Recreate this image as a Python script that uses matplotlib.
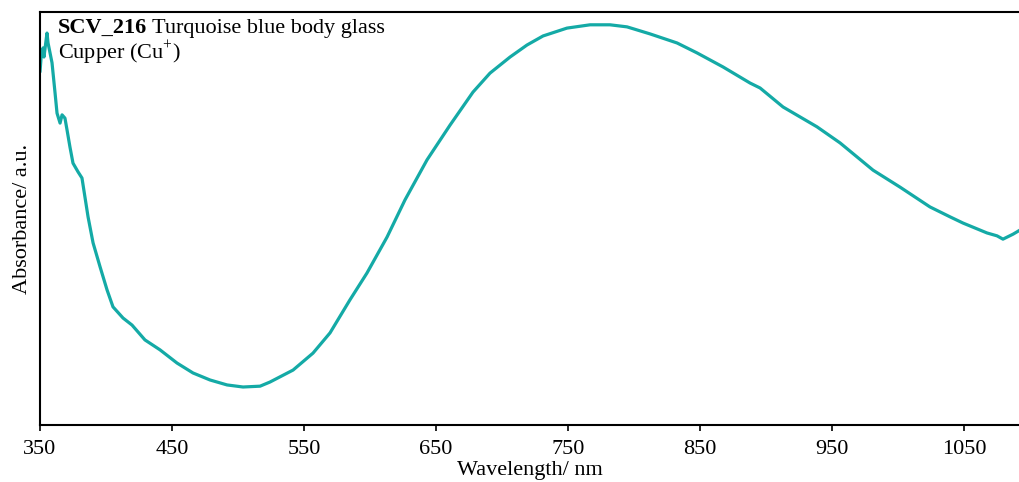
import matplotlib
matplotlib.use("Agg")
import matplotlib.pyplot as plt

# Absorbance spectrum (arbitrary units)
wavelength = [350.0, 350.8, 352.3, 353.0, 355.3, 356.1, 357.6, 359.1, 361.4, 362.9,
              365.2, 366.7, 368.9, 370.5, 372.7, 375.0, 378.8, 381.8, 386.4, 390.2,
              395.5, 400.8, 405.3, 412.9, 419.7, 429.5, 440.9, 453.8, 465.9, 478.8,
              491.7, 503.8, 516.7, 524.2, 541.7, 556.8, 569.7, 584.8, 597.7, 612.9,
              626.5, 643.2, 660.6, 678.0, 690.9, 706.1, 718.9, 731.1, 749.2, 766.7,
              781.8, 794.7, 812.1, 832.6, 847.7, 867.4, 887.9, 895.5, 912.9, 938.6,
              956.1, 981.1, 1001.5, 1024.2, 1039.4, 1049.2, 1067.4, 1075.0, 1079.5,
              1087.1, 1092.4]
absorbance = [0.855, 0.889, 0.913, 0.891, 0.949, 0.925, 0.901, 0.877, 0.804, 0.755,
              0.731, 0.751, 0.743, 0.714, 0.673, 0.634, 0.613, 0.598, 0.504, 0.441,
              0.383, 0.327, 0.286, 0.259, 0.242, 0.206, 0.182, 0.150, 0.126, 0.109,
              0.097, 0.092, 0.094, 0.104, 0.133, 0.174, 0.223, 0.303, 0.368, 0.455,
              0.545, 0.642, 0.726, 0.806, 0.852, 0.891, 0.920, 0.942, 0.961, 0.969,
              0.969, 0.964, 0.947, 0.925, 0.901, 0.867, 0.828, 0.816, 0.770, 0.722,
              0.683, 0.617, 0.576, 0.528, 0.504, 0.489, 0.465, 0.458, 0.450,
              0.462, 0.472]
xticks = [350, 450, 550, 650, 750, 850, 950, 1050]

plt.rcParams['font.family'] = ['Liberation Serif', 'DejaVu Serif']
plt.rcParams['mathtext.fontset'] = 'custom'
plt.rcParams['mathtext.rm'] = 'Liberation Serif'

W, H = 1020, 482
fig = plt.figure(figsize=(W / 100, H / 100), dpi=100)
ax = fig.add_axes([40 / W, 1 - 425 / H, 980 / W, 413 / H])

ax.plot(wavelength, absorbance, color='#14aaa6', lw=2.3,
        solid_joinstyle='round', solid_capstyle='round')

ax.set_xlim(350, 1092.4)
ax.set_ylim(0, 1.0)
ax.set_xticks(xticks)
ax.set_yticks([])
ax.tick_params(axis='x', direction='out', length=4, width=1.2, pad=7, labelsize=16)
for side in ['left', 'bottom', 'top']:
    ax.spines[side].set_linewidth(1.5)
ax.spines['right'].set_visible(False)

ax.set_xlabel('Wavelength/ nm', fontsize=16, labelpad=1)
ax.set_ylabel('Absorbance/ a.u.', fontsize=16, labelpad=6)

# sample label: bold id followed by plain description
t1 = fig.text(58 / W, 1 - 33 / H, 'SCV_216', fontsize=16, fontweight='bold',
              va='baseline', ha='left')
fig.canvas.draw()
bb = t1.get_window_extent()
fig.text(bb.x1 / W + 5 / W, 1 - 33 / H, 'Turquoise blue body glass',
         fontsize=16, va='baseline', ha='left')
fig.text(58 / W, 1 - 58 / H, 'Cupper (Cu$^{+}$)',
         fontsize=16, va='baseline', ha='left')

fig.savefig('out.png', dpi=100)
